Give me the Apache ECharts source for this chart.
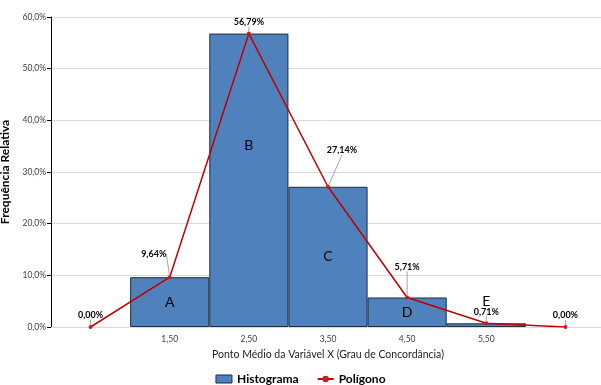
<!DOCTYPE html>
<html>
<head>
<meta charset="utf-8">
<script src="https://cdn.jsdelivr.net/npm/echarts@6/dist/echarts.min.js"></script>
<style>html,body{margin:0;padding:0;background:#fff}#c{width:601px;height:385px}</style>
</head>
<body>
<div id="c"></div>
<script>
var categories = ['', '1,50', '2,50', '3,50', '4,50', '5,50', ''];
var histValues = [null, 9.64, 56.79, 27.14, 5.71, 0.71, null];
var histLetters = ['', 'A', 'B', 'C', 'D', 'E', ''];
var polyValues = [0, 9.64, 56.79, 27.14, 5.71, 0.71, 0];

var labelShift = [[0,0],[-16,-12],[0,0],[14,-25],[0,-19],[0,0],[0,0]];

function pct2(v){ return v.toFixed(2).replace('.', ',') + '%'; }
var FONT = 'Lato';

var chart = echarts.init(document.getElementById('c'), null, {renderer:'canvas'});
var barData = histValues.map(function(v, i){
  if (v === null) return null;
  var lab = {show:true, formatter: histLetters[i], position:'inside', color:'#000', fontSize:14, fontFamily:FONT};
  if (i === 5) { lab.position = 'top'; lab.distance = 15; }
  if (i === 2) { lab.position = 'insideTop'; lab.distance = 105; }
  return {value: v, label: lab};
});

chart.setOption({
  animation:false,
  grid:{left:51, right:-4, top:17, bottom:58, outerBoundsMode:'none', containLabel:false},
  legend:{
    top:368, left:'center', itemGap:18, itemWidth:16, itemHeight:8,
    textStyle:{fontSize:12, fontWeight:'bold', color:'#000', fontFamily:FONT},
    data:[{name:'Histograma', icon:'rect', itemStyle:{borderColor:'#1f2d3d', borderWidth:1}}, {name:'Polígono'}]
  },
  xAxis:{
    type:'category', data:categories,
    name:'Ponto Médio da Variável X (Grau de Concordância)', nameLocation:'middle', nameGap:22,
    nameTextStyle:{fontSize:10.5, color:'#222', fontFamily:FONT},
    axisLine:{lineStyle:{color:'#d9d9d9'}}, axisTick:{show:false},
    axisLabel:{fontSize:8.5, color:'#404040', margin:8, fontFamily:FONT}
  },
  yAxis:{
    type:'value', min:0, max:60, interval:10,
    name:'Frequência Relativa', nameLocation:'middle', nameGap:30,
    nameTextStyle:{fontSize:12, fontWeight:'bold', color:'#000', fontFamily:FONT},
    axisLine:{show:true, lineStyle:{color:'#000'}},
    axisTick:{show:true, length:4, lineStyle:{color:'#000'}},
    axisLabel:{fontSize:8.5, color:'#404040', margin:5, fontFamily:FONT, formatter:function(v){return v.toFixed(1).replace('.', ',') + '%';}},
    splitLine:{lineStyle:{color:'#d9d9d9'}}
  },
  series:[
    {name:'Histograma', type:'bar', data:barData, barWidth:'100%', barGap:'-100%',
     itemStyle:{color:'#4f81bd', borderColor:'#1f2d3d', borderWidth:1}},
    {name:'Polígono', type:'line', data:polyValues, symbol:'circle', symbolSize:4,
     itemStyle:{color:'#c0202a'}, lineStyle:{color:'#c00000', width:1.5}, z:5,
     label:{show:true, position:'top', distance:5, fontSize:9, fontWeight:'bold', color:'#000', fontFamily:FONT,
       formatter:function(p){return pct2(p.value);}},
     labelLine:{show:true, lineStyle:{color:'#a6a6a6', width:1}},
     labelLayout:function(p){ var s = labelShift[p.dataIndex]; return {dx:s[0], dy:s[1]}; }
    }
  ]
});
</script>
</body>
</html>
